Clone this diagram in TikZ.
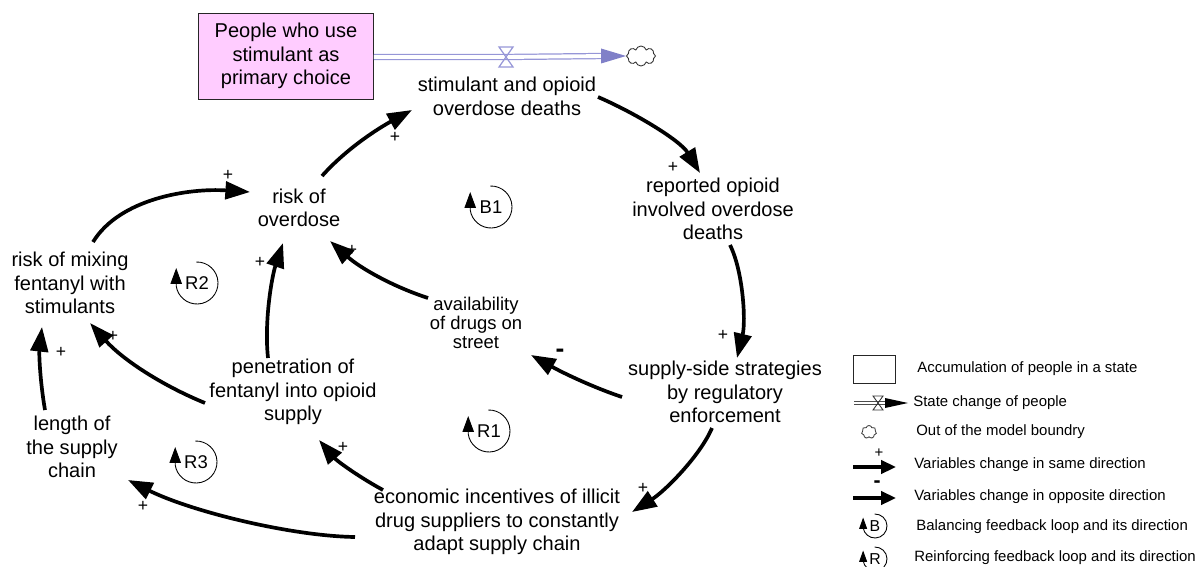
\documentclass[tikz,border=0pt]{standalone}
\usepackage{fontspec}
\setmainfont{Liberation Sans}
\usetikzlibrary{arrows.meta,calc,shapes.symbols}

\definecolor{stockpink}{RGB}{255,204,255}
\definecolor{pipeblue}{RGB}{150,150,215}
\definecolor{headblue}{RGB}{128,128,200}

\tikzset{
  var/.style={align=center, font=\fontsize{11.4}{13.3}\selectfont, inner sep=1pt},
  link/.style={line width=2.1pt, -{Triangle[length=14pt,width=10pt]}},
  pol/.style={font=\fontsize{10}{10}\selectfont, inner sep=0pt},
  legtext/.style={anchor=west, font=\fontsize{8.5}{10}\selectfont, inner sep=0pt},
  pipe/.style={draw=pipeblue, line width=0.7pt, double=white, double distance=2.2pt},
  loopline/.style={line width=0.5pt},
  bigtip/.style={-{Triangle[length=9pt,width=6.5pt]}},
  smalltip/.style={-{Triangle[length=6.5pt,width=4.5pt]}},
}

% feedback loop marker: name, position, label, radius, font, tip style
\newcommand\fbloop[6]{%
  \node[inner sep=0pt, font=#5] (#1) at (#2) {#3};
  \draw[loopline,#6] ($(#1)+(92:#4)$) arc[start angle=92, end angle=-172, radius=#4]
    -- ++(0,{0.85*#4});
}

\begin{document}
\begin{tikzpicture}[x=0.2mm, y=0.2mm]
\useasboundingbox (0,0) rectangle (1203,566);

% ---- stock and flow ----
\node[var, draw=black!85, fill=stockpink, minimum width=35mm, minimum height=17.2mm]
  (stock) at (286,510) {People who use\\stimulant as\\primary choice};
\coordinate (valve) at (506,509);
\node[cloud, cloud puffs=8, draw=black!80, line width=0.5pt, minimum width=5.8mm,
  minimum height=4mm, inner sep=0pt, aspect=1.4] (cld) at (641,510) {};
\draw[pipe] (stock.east |- valve) -- (valve) -- ($(cld.west)+(-22,0)$);
\fill[headblue] ($(cld.west)+(-25,7.5)$) -- (cld.west) -- ($(cld.west)+(-25,-7.5)$) -- cycle;
\draw[pipeblue, line width=0.7pt]
  ($(valve)+(-7,10)$) -- ($(valve)+(7,10)$) -- ($(valve)+(-7,-10)$) -- ($(valve)+(7,-10)$) -- cycle;

% ---- variables ----
\node[var] (sod)   at (507,469.5) {stimulant and opioid\\overdose deaths};
\node[var] (rep)   at (713,357)   {reported opioid\\involved overdose\\deaths};
\node[var] (sup)   at (725,174)   {supply-side strategies\\by regulatory\\enforcement};
\node[var, font=\fontsize{10.5}{11}\selectfont] (avail) at (476,243) {availability\\of drugs on\\street};
\node[var] (rod)   at (299,358)   {risk of\\overdose};
\node[var] (mix)   at (70,283)    {risk of mixing\\fentanyl with\\stimulants};
\node[var] (pen)   at (293,174)   {penetration of\\fentanyl into opioid\\supply};
\node[var] (len)   at (72,119)    {length of\\the supply\\chain};
\node[var] (eco)   at (497,44)    {economic incentives of illicit\\drug suppliers to constantly\\adapt supply chain};

% ---- causal links ----
\draw[link] ($(rod)+(23,32)$) .. controls (347,418) and (379,438) .. ($(sod)+(-95,-13.5)$);
\draw[link] ($(sod)+(91,-0.5)$) .. controls (633,454) and (680,426) .. ($(rep)+(-13,36)$);
\draw[link] ($(rep)+(17,-36)$) .. controls (743,295) and (746,245) .. ($(sup)+(12,34)$);
\draw[link] ($(sup)+(-103,-5)$) .. controls (595,178) and (565,192) .. ($(avail)+(55,-32)$);
\draw[link] ($(sup)+(-13,-36)$) .. controls (700,110) and (665,75) .. ($(eco)+(135,10)$);
\draw[link] ($(avail)+(-48,25)$) .. controls (391,280) and (359,299) .. ($(rod)+(31,-33)$);
\draw[link] ($(eco)+(-114,32)$) .. controls (359,89) and (337,105) .. ($(pen)+(26,-48)$);
\draw[link] ($(eco)+(-142,-15)$) .. controls (290,30) and (190,55) .. ($(len)+(56,-33)$);
\draw[link] ($(pen)+(-25,34)$) .. controls (264,245) and (272,290) .. ($(rod)+(-16,-35)$);
\draw[link] ($(pen)+(-88,-11)$) .. controls (161,181) and (122,207) .. ($(mix)+(20,-40)$);
\draw[link] ($(len)+(-27,37)$) .. controls (40,185) and (39,212) .. ($(mix)+(-28,-44)$);
\draw[link] ($(mix)+(23,41)$) .. controls (120,368) and (190,378) .. ($(rod)+(-49,16)$);

% ---- polarities ----
\node[pol] (p1)  at (395,429) {+};
\node[pol] (p2)  at (673,399) {+};
\node[pol] (p3)  at (723,231) {+};
\node[pol, font=\bfseries\fontsize{15}{15}\selectfont] (p4) at (560,213) {-};
\node[pol] (p5)  at (643,78)  {+};
\node[pol] (p6)  at (352,316) {+};
\node[pol] (p7)  at (343,119) {+};
\node[pol] (p8)  at (143,60)  {+};
\node[pol] (p9)  at (260,304) {+};
\node[pol] (p10) at (113,230) {+};
\node[pol] (p11) at (61,214)  {+};
\node[pol] (p12) at (228,391) {+};

% ---- loop markers ----
\fbloop{B1}{491,359}{B1}{21}{\fontsize{10.5}{10.5}\selectfont}{bigtip}
\fbloop{R2}{197,283}{R2}{21}{\fontsize{10.5}{10.5}\selectfont}{bigtip}
\fbloop{R1}{489,135}{R1}{21}{\fontsize{10.5}{10.5}\selectfont}{bigtip}
\fbloop{R3}{196,104}{R3}{21}{\fontsize{10.5}{10.5}\selectfont}{bigtip}

% ---- legend ----
\node[draw=black!85, line width=0.5pt, minimum width=8.4mm, minimum height=5.6mm, inner sep=0pt]
  (lgstock) at (874,197) {};
\node[legtext] (lgstocktxt) at (917,197) {Accumulation of people in a state};

\coordinate (lgvalve) at (878,163);
\draw[draw=black!70, line width=0.45pt, double=white, double distance=1.6pt]
  (854,163) -- (lgvalve) -- (886,163);
\draw[black!80, line width=0.5pt]
  ($(lgvalve)+(-5,7)$) -- ($(lgvalve)+(5,7)$) -- ($(lgvalve)+(-5,-7)$) -- ($(lgvalve)+(5,-7)$) -- cycle;
\fill[black] (885,168) -- (908,163) -- (885,158) -- cycle;
\node[legtext] (lgflowtxt) at (913,163) {State change of people};

\node[cloud, cloud puffs=7, draw=black!80, line width=0.45pt, minimum width=3mm,
  minimum height=2.6mm, inner sep=0pt] (lgcloud) at (869,134) {};
\node[legtext] (lgcloudtxt) at (916,134) {Out of the model boundry};

\coordinate (lgpa) at (853,99);
\coordinate (lgpb) at (896,99);
\draw[line width=2pt, -{Triangle[length=8.5pt,width=7.5pt]}] (lgpa) -- (lgpb);
\node[pol, font=\fontsize{8.5}{8.5}\selectfont] (lgplus) at (879,113) {+};
\node[legtext] (lgpostxt) at (914,101) {Variables change in same direction};

\coordinate (lgna) at (853,68);
\coordinate (lgnb) at (896,68);
\draw[line width=2pt, -{Triangle[length=8.5pt,width=7.5pt]}] (lgna) -- (lgnb);
\node[pol, font=\bfseries\fontsize{12}{12}\selectfont] (lgminus) at (877,82) {-};
\node[legtext] (lgnegtxt) at (914,69) {Variables change in opposite direction};

\fbloop{lgB}{875,40}{B}{12}{\fontsize{9}{9}\selectfont}{smalltip}
\node[legtext] (lgBtxt) at (916,39) {Balancing feedback loop and its direction};
\fbloop{lgR}{875,7}{R}{12}{\fontsize{9}{9}\selectfont}{smalltip}
\node[legtext] (lgRtxt) at (914,8) {Reinforcing feedback loop and its direction};

\end{tikzpicture}
\end{document}
